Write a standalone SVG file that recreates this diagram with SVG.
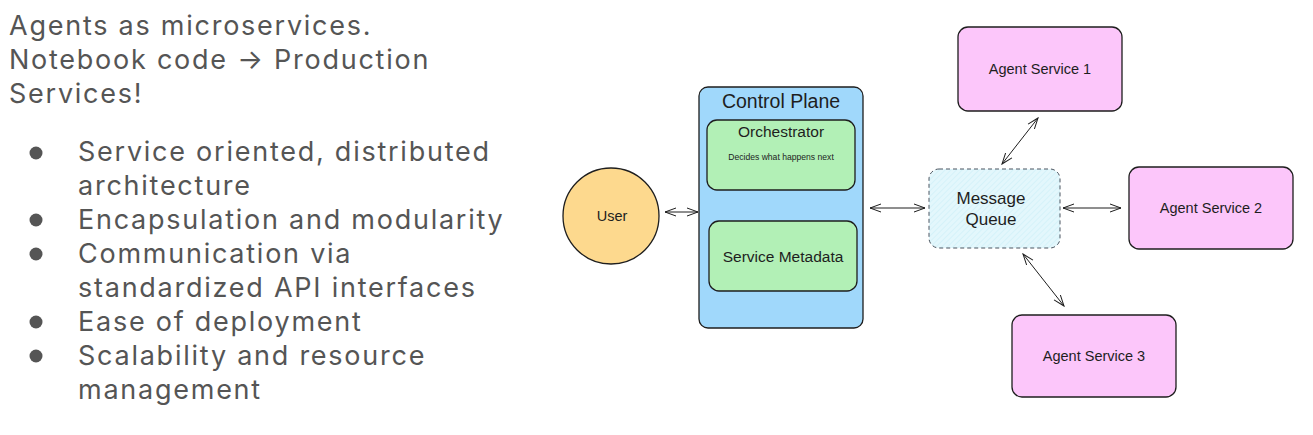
<svg xmlns="http://www.w3.org/2000/svg" width="1313" height="435" viewBox="0 0 1313 435">
<style>
.t{font-family:Inter,"Liberation Sans",sans-serif;font-size:27px;letter-spacing:1.75px;fill:#555555}
.h{font-family:"Liberation Sans","DejaVu Sans",sans-serif;fill:#1e1e1e;text-anchor:middle;dominant-baseline:central}
.box{stroke:#1e1e1e;stroke-width:1.3}
.con{stroke:#1e1e1e;stroke-width:1;fill:none;marker-start:url(#ah);marker-end:url(#ah)}
</style>
<defs>
<marker id="ah" viewBox="0 0 12 12" refX="11" refY="6" markerWidth="12" markerHeight="12" markerUnits="userSpaceOnUse" orient="auto-start-reverse">
<path d="M0,2 L11,6 L0,10" fill="none" stroke="#1e1e1e" stroke-width="1"/>
</marker>
<pattern id="hatch" width="4" height="4" patternUnits="userSpaceOnUse" patternTransform="rotate(45)">
<rect width="4" height="4" fill="#e3f7fc"/>
<line x1="0" y1="0" x2="0" y2="4" stroke="#c8edf7" stroke-width="1"/>
</pattern>
</defs>
<rect width="1313" height="435" fill="#ffffff"/>
<g id="text">
<text class="t" x="9" y="35">Agents as microservices.</text>
<text class="t" x="9" y="69">Notebook code → Production</text>
<text class="t" x="9" y="103">Services!</text>
<g fill="#555555">
<circle cx="36" cy="153" r="6.5"/>
<circle cx="36" cy="220" r="6.5"/>
<circle cx="36" cy="254" r="6.5"/>
<circle cx="36" cy="322" r="6.5"/>
<circle cx="36" cy="356" r="6.5"/>
</g>
<text class="t" x="78" y="161">Service oriented, distributed</text>
<text class="t" x="78" y="195">architecture</text>
<text class="t" x="78" y="229">Encapsulation and modularity</text>
<text class="t" x="78" y="263">Communication via</text>
<text class="t" x="78" y="297">standardized API interfaces</text>
<text class="t" x="78" y="331">Ease of deployment</text>
<text class="t" x="78" y="365">Scalability and resource</text>
<text class="t" x="78" y="399">management</text>
</g>
<g id="connectors">
<line class="con" x1="665" y1="212" x2="698" y2="212"/>
<line class="con" x1="870" y1="208" x2="925" y2="208"/>
<line class="con" x1="1038" y1="118" x2="1002" y2="164"/>
<line class="con" x1="1063" y1="208" x2="1121" y2="208"/>
<line class="con" x1="1023" y1="254" x2="1064" y2="306"/>
</g>
<g id="user">
<circle class="box" cx="611" cy="216" r="48" fill="#fdd98e"/>
<text class="h" x="612" y="216" font-size="14.5">User</text>
</g>
<g id="control-plane">
<rect class="box" x="699" y="87" width="164" height="241" rx="9" fill="#a0d8fb"/>
<text class="h" x="781" y="101" font-size="19.5" fill="#1b2a50">Control Plane</text>
</g>
<g id="orchestrator">
<rect class="box" x="707" y="120" width="148" height="70" rx="10" fill="#b2f0b6"/>
<text class="h" x="781" y="131" font-size="15.5">Orchestrator</text>
<text class="h" x="781" y="157" font-size="8.6">Decides what happens next</text>
</g>
<g id="service-metadata">
<rect class="box" x="709" y="221" width="148" height="70" rx="10" fill="#b2f0b6"/>
<text class="h" x="783" y="256" font-size="15.5">Service Metadata</text>
</g>
<g id="message-queue">
<rect x="929" y="169" width="131" height="79" rx="10" fill="url(#hatch)" stroke="#4a5560" stroke-width="1" stroke-dasharray="4 3"/>
<text class="h" x="991" y="198" font-size="17">Message</text>
<text class="h" x="991" y="219" font-size="17">Queue</text>
</g>
<g id="agent-service-1">
<rect class="box" x="958" y="27" width="164" height="84" rx="10" fill="#fcc6fa"/>
<text class="h" x="1040" y="69" font-size="14.5">Agent Service 1</text>
</g>
<g id="agent-service-2">
<rect class="box" x="1129" y="167" width="164" height="82" rx="10" fill="#fcc6fa"/>
<text class="h" x="1211" y="208" font-size="14.5">Agent Service 2</text>
</g>
<g id="agent-service-3">
<rect class="box" x="1012" y="315" width="164" height="82" rx="10" fill="#fcc6fa"/>
<text class="h" x="1094" y="356" font-size="14.5">Agent Service 3</text>
</g>
</svg>
